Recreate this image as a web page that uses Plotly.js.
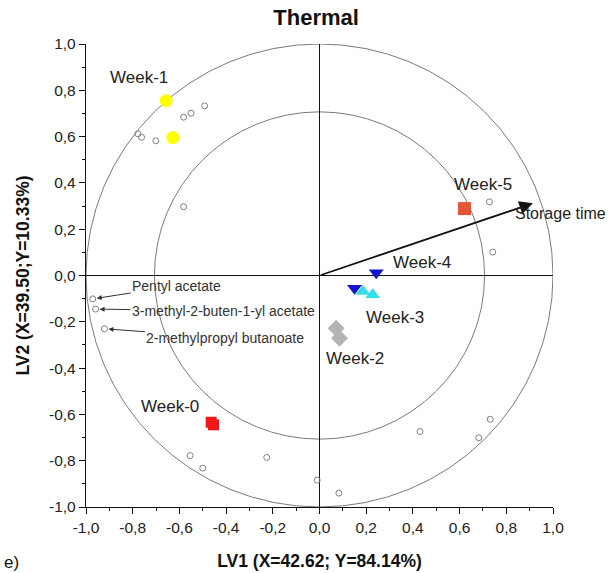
<!DOCTYPE html>
<html><head><meta charset="utf-8">
<script src="https://cdn.plot.ly/plotly-3.0.1.min.js"></script>
<style>body{margin:0;background:#fff}#c{width:609px;height:573px}</style>
</head><body><div id="c"></div>
<script>
// Loadings (open circles)
var loadX = [-0.492, -0.550, -0.582, -0.778, -0.762, -0.701, -0.582, 0.728, 0.742, -0.971, -0.959, -0.921, -0.554, -0.500, -0.226, -0.010, 0.083, 0.430, 0.682, 0.731];
var loadY = [0.733, 0.701, 0.684, 0.612, 0.597, 0.582, 0.297, 0.318, 0.101, -0.101, -0.145, -0.230, -0.778, -0.832, -0.786, -0.884, -0.940, -0.674, -0.701, -0.621];
// Scores per week
var w0X = [-0.464, -0.454], w0Y = [-0.634, -0.645];
var w1X = [-0.657, -0.628], w1Y = [0.755, 0.596];
var w2X = [0.071, 0.086],   w2Y = [-0.228, -0.271];
var w3X = [0.186, 0.228],   w3Y = [-0.069, -0.083];
var w4X = [0.243, 0.150],   w4Y = [0.012, -0.055];
var w5X = [0.621],          w5Y = [0.289];
// Week label positions
var weekNames = ['Week-0','Week-1','Week-2','Week-3','Week-4','Week-5'];
var weekLabX = [-0.642, -0.771, 0.154, 0.322, 0.437, 0.702];
var weekLabY = [-0.566, 0.855, -0.357, -0.181, 0.056, 0.392];
// Storage time vector
var arrowX = 0.914, arrowY = 0.312;
// Compound labels
var compNames = ['Pentyl acetate', '3-methyl-2-buten-1-yl acetate', '2-methylpropyl butanoate'];
var compIdx = [9, 10, 11];
var compAx = [84, 128, 121], compAy = [-13, 2, 9];
// Correlation circles
var radii = [1.0, 0.707];
var ticks = [-1.0,-0.8,-0.6,-0.4,-0.2,0.0,0.2,0.4,0.6,0.8,1.0];
var tickLabels = ['-1,0','-0,8','-0,6','-0,4','-0,2','0,0','0,2','0,4','0,6','0,8','1,0'];

var F = 'Liberation Sans, Arial, sans-serif';
function sc(x,y,sym,col,size,extra){
  var m = {symbol:sym,color:col,size:size};
  if(extra) for(var k in extra) m[k]=extra[k];
  return {type:'scatter',mode:'markers',x:x,y:y,marker:m,showlegend:false,hoverinfo:'skip',cliponaxis:false};
}
var data = [
  sc(loadX, loadY, 'circle-open', '#808080', 6, {line:{width:1,color:'#808080'}}),
  sc(w0X, w0Y, 'square', '#f01818', 11),
  sc(w1X, w1Y, 'circle', '#ffff00', 13),
  sc(w2X, w2Y, 'diamond', '#b4b4b4', 13),
  sc(w3X, w3Y, 'triangle-up', '#33e0e8', 13),
  sc(w4X, w4Y, 'triangle-down', '#1414d0', 13),
  sc(w5X, w5Y, 'square', '#e65535', 13)
];
var shapes = radii.map(function(r){
  return {type:'circle',xref:'x',yref:'y',x0:-r,x1:r,y0:-r,y1:r,line:{color:'#7a7a7a',width:1},layer:'below'};
});
var ann = [];
weekNames.forEach(function(n,i){
  ann.push({x:weekLabX[i],y:weekLabY[i],xref:'x',yref:'y',text:n,showarrow:false,font:{family:F,size:17,color:'#222'}});
});
ann.push({x:arrowX,y:arrowY,ax:0,ay:0,xref:'x',yref:'y',axref:'x',ayref:'y',text:'',showarrow:true,arrowhead:2,arrowsize:1.5,arrowwidth:1.8,arrowcolor:'#111'});
ann.push({x:1.017,y:0.633,xref:'paper',yref:'paper',xanchor:'center',yanchor:'middle',text:'Storage time',showarrow:false,font:{family:F,size:16,color:'#222'}});
compNames.forEach(function(n,i){
  ann.push({x:loadX[compIdx[i]],y:loadY[compIdx[i]],xref:'x',yref:'y',text:n,showarrow:true,ax:compAx[i],ay:compAy[i],
    arrowhead:2,arrowsize:1,arrowwidth:1,arrowcolor:'#333',standoff:4,font:{family:F,size:14,color:'#333'}});
});
ann.push({x:0,y:0,xref:'paper',yref:'paper',xanchor:'left',yanchor:'top',xshift:-84,yshift:-44,text:'e)',showarrow:false,font:{family:F,size:17,color:'#111'}});

var ax = {range:[-1,1],tickmode:'array',tickvals:ticks,ticktext:tickLabels,ticks:'outside',ticklen:6,tickwidth:1,tickcolor:'#111',
  showline:true,linecolor:'#111',linewidth:1.2,mirror:false,showgrid:false,zeroline:true,zerolinecolor:'#111',zerolinewidth:1.3,
  tickfont:{family:F,size:15.5,color:'#222'},minor:{tickmode:'linear',dtick:0.1,tick0:0,ticks:'outside',ticklen:3,tickcolor:'#111',showgrid:false},fixedrange:true};
var xa = JSON.parse(JSON.stringify(ax)); xa.title={text:'<b>LV1 (X=42.62; Y=84.14%)</b>',font:{family:F,size:17.5,color:'#111'},standoff:20};
var ya = JSON.parse(JSON.stringify(ax)); ya.title={text:'<b>LV2 (X=39.50;Y=10.33%)</b>',font:{family:F,size:17.5,color:'#111'},standoff:14};
var layout = {width:609,height:573,margin:{l:86,r:56,t:44,b:66},
  paper_bgcolor:'#fff',plot_bgcolor:'#fff',
  title:{text:'<b>Thermal</b>',x:0.519,xanchor:'center',y:0.969,yanchor:'middle',font:{family:F,size:22,color:'#111'}},
  xaxis:xa,yaxis:ya,shapes:shapes,annotations:ann,showlegend:false};
Plotly.newPlot('c',data,layout,{staticPlot:true});
</script></body></html>
